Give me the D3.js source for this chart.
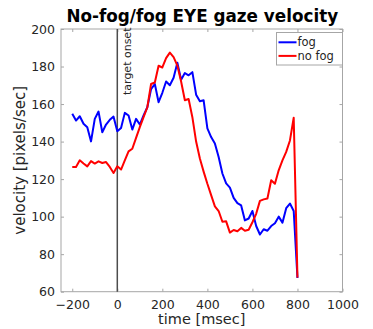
<!DOCTYPE html>
<html>
<head>
<meta charset="utf-8">
<script src="https://cdn.jsdelivr.net/npm/d3@7"></script>
<style>
  html, body { margin: 0; padding: 0; background: #fff; }
  svg { display: block; font-family: "DejaVu Sans", sans-serif; }
</style>
</head>
<body>
<svg id="chart" width="373" height="329"></svg>
<script>
// Sample times (msec), 60 Hz grid from -200 to 800
const times = d3.range(61).map(i => -200 + i * 1000 / 60);

// Mean gaze velocity (pixels/sec), fog condition
const fogVelocity = [
  154.8, 151.2, 153.5, 149.5, 147.7, 140.1, 152.1, 156.0, 145.0, 149.1,
  151.6, 153.3, 145.5, 147.3, 155.3, 153.9, 146.4, 152.1, 149.1, 153.9,
  158.3, 168.0, 170.7, 161.0, 166.0, 172.0, 170.0, 174.0, 182.0, 173.0,
  176.5, 175.3, 177.0, 165.0, 161.5, 162.0, 147.0, 142.4, 139.0, 131.8,
  123.0, 117.7, 115.5, 110.0, 107.2, 106.0, 98.0, 99.0, 103.0, 95.0,
  90.5, 93.3, 92.5, 95.0, 96.5, 100.0, 96.8, 104.5, 107.0, 103.0,
  67.3
];

// Mean gaze velocity (pixels/sec), no-fog condition
const noFogVelocity = [
  126.5, 126.5, 130.0, 128.3, 126.8, 129.6, 128.3, 129.5, 128.6, 129.1,
  126.5, 123.3, 126.8, 125.1, 130.0, 134.8, 136.2, 142.0, 147.7, 153.0,
  158.3, 170.7, 171.5, 180.4, 179.5, 184.5, 187.4, 185.0, 180.5, 172.0,
  162.0, 162.7, 153.0, 140.0, 131.0, 124.0, 117.5, 111.5, 105.5, 103.0,
  97.3, 97.5, 91.5, 92.9, 92.2, 94.0, 92.5, 93.0, 97.0, 101.5,
  108.4, 109.2, 109.7, 119.4, 117.5, 124.7, 130.0, 134.5, 140.6, 152.7,
  67.5
];

const xTicks = [-200, 0, 200, 400, 600, 800, 1000];
const yTicks = [60, 80, 100, 120, 140, 160, 180, 200];
const onsetTime = 0;

const seriesNames = ["fog", "no fog"];
const seriesColors = ["#0000ff", "#ff0000"];

const svg = d3.select("#chart");
const plotLeft = 61, plotRight = 342.5, plotTop = 29, plotBottom = 291.7;

const x = d3.scaleLinear().domain([-250, 1000]).range([plotLeft, plotRight]);
const y = d3.scaleLinear().domain([60, 200]).range([plotBottom, plotTop]);

const axisColor = "#a6a6a6";
const textColor = "#262626";

// Plot box
svg.append("rect")
  .attr("x", plotLeft).attr("y", plotTop)
  .attr("width", plotRight - plotLeft).attr("height", plotBottom - plotTop)
  .attr("fill", "#fff").attr("stroke", axisColor).attr("stroke-width", 1);

// Inward ticks on all four sides
const tickLen = 3;
const styleAxis = g => {
  g.select(".domain").remove();
  g.selectAll(".tick line").attr("stroke", axisColor);
  g.selectAll(".tick text").attr("fill", textColor)
    .style("font-size", "12.5px").style("font-family", "DejaVu Sans, sans-serif");
};

svg.append("g").attr("transform", `translate(0,${plotBottom})`)
  .call(d3.axisBottom(x).tickValues(xTicks).tickSize(-tickLen).tickPadding(8).tickFormat(d3.format("d")))
  .call(styleAxis);
svg.append("g").attr("transform", `translate(0,${plotTop})`)
  .call(d3.axisTop(x).tickValues(xTicks).tickSize(-tickLen).tickFormat(""))
  .call(styleAxis);
svg.append("g").attr("transform", `translate(${plotLeft},0)`)
  .call(d3.axisLeft(y).tickValues(yTicks).tickSize(-tickLen).tickPadding(6).tickFormat(d3.format("d")))
  .call(styleAxis);
svg.append("g").attr("transform", `translate(${plotRight},0)`)
  .call(d3.axisRight(y).tickValues(yTicks).tickSize(-tickLen).tickFormat(""))
  .call(styleAxis);

// Target onset marker
svg.append("line")
  .attr("x1", x(onsetTime)).attr("x2", x(onsetTime))
  .attr("y1", plotTop).attr("y2", plotBottom)
  .attr("stroke", "#4d4d4d").attr("stroke-width", 1.5);
svg.append("text")
  .attr("transform", `translate(${x(onsetTime) + 13.5},${plotTop + 66}) rotate(-90)`)
  .attr("fill", textColor)
  .style("font-size", "11px")
  .text("target onset");

// Data lines
const line = d3.line()
  .x((d, i) => x(times[i]))
  .y(d => y(d));

[fogVelocity, noFogVelocity].forEach((vals, k) => {
  svg.append("path")
    .datum(vals)
    .attr("fill", "none")
    .attr("stroke", seriesColors[k])
    .attr("stroke-width", 2)
    .attr("stroke-linejoin", "round")
    .attr("d", line);
});

// Legend
const legend = svg.append("g");
legend.append("rect")
  .attr("x", 276.5).attr("y", 32.5)
  .attr("width", 66).attr("height", 32.5)
  .attr("fill", "#fff").attr("stroke", axisColor).attr("stroke-width", 1);
seriesNames.forEach((name, k) => {
  const ly = 42.3 + k * 13.6;
  legend.append("line")
    .attr("x1", 278.5).attr("x2", 296.5)
    .attr("y1", ly).attr("y2", ly)
    .attr("stroke", seriesColors[k]).attr("stroke-width", 2);
  legend.append("text")
    .attr("x", 297.5).attr("y", ly + 4)
    .attr("fill", textColor)
    .style("font-size", "11.5px")
    .text(name);
});

// Title
svg.append("text")
  .attr("x", (plotLeft + plotRight) / 2 + 0.5).attr("y", 21.5)
  .attr("text-anchor", "middle")
  .attr("fill", "#000")
  .style("font-size", "16.8px").style("font-weight", "bold")
  .text("No-fog/fog EYE gaze velocity");

// Axis labels
svg.append("text")
  .attr("x", (plotLeft + plotRight) / 2).attr("y", 324)
  .attr("text-anchor", "middle")
  .attr("fill", textColor)
  .style("font-size", "14.5px")
  .text("time [msec]");
svg.append("text")
  .attr("transform", `translate(25,${(plotTop + plotBottom) / 2}) rotate(-90)`)
  .attr("text-anchor", "middle")
  .attr("fill", textColor)
  .style("font-size", "15px")
  .text("velocity [pixels/sec]");
</script>
</body>
</html>
